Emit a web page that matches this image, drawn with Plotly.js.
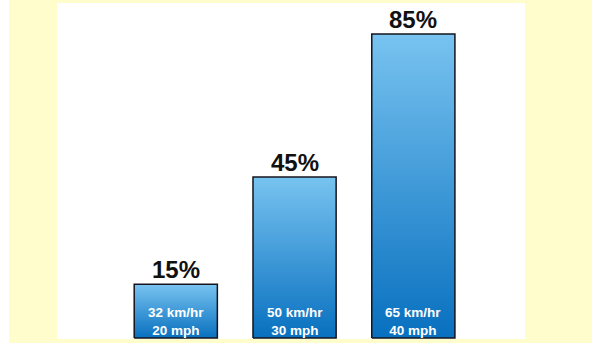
<!DOCTYPE html>
<html>
<head>
<meta charset="utf-8">
<script src="https://cdn.plot.ly/plotly-3.0.1.min.js"></script>
<style>html,body{margin:0;padding:0;background:#ffffff;}#chart{width:592px;height:343px;}</style>
</head>
<body>
<div id="chart"></div>
<script>
const speedKmh = ['32 km/hr', '50 km/hr', '65 km/hr'];
const speedMph = ['20 mph', '30 mph', '40 mph'];
const values = [15, 45, 85];
const valueLabels = ['15%', '45%', '85%'];

const halfWidth = 0.35;
const traces = values.map((v, i) => ({
  type: 'scatter',
  mode: 'lines',
  x: [i - halfWidth, i - halfWidth, i + halfWidth, i + halfWidth, i - halfWidth],
  y: [0, v, v, 0, 0],
  fill: 'toself',
  fillgradient: {type: 'vertical', colorscale: [[0, '#0870BF'], [1, '#78C3F0']]},
  line: {color: '#14141e', width: 1.5},
  hoverinfo: 'skip',
  showlegend: false
}));

const fontFam = 'Liberation Sans, Arial, sans-serif';
const annotations = [];
values.forEach((v, i) => {
  annotations.push({
    x: i, y: v, xref: 'x', yref: 'y', text: '<b>' + valueLabels[i] + '</b>',
    showarrow: false, yanchor: 'bottom', yshift: -1,
    font: {family: fontFam, size: 24, color: '#111111'}
  });
  annotations.push({
    x: i, y: 0, xref: 'x', yref: 'y',
    text: '<b>' + speedKmh[i] + '<br>' + speedMph[i] + '</b>',
    showarrow: false, yanchor: 'middle', yshift: 17, borderpad: 0,
    font: {family: fontFam, size: 13.5, color: '#ffffff'}
  });
});

const layout = {
  width: 592, height: 343,
  margin: {l: 57, r: 67, t: 3, b: 4, pad: 0},
  paper_bgcolor: '#FFFDCC',
  plot_bgcolor: '#ffffff',
  xaxis: {range: [-1.0, 2.94], visible: false, fixedrange: true},
  yaxis: {range: [-0.28, 93.68], visible: false, fixedrange: true},
  showlegend: false,
  annotations: annotations,
  shapes: [{
    type: 'rect', xref: 'paper', yref: 'paper',
    x0: -57/468, x1: -48/468, y0: -4/336, y1: 1 + 3/336,
    fillcolor: '#ffffff', line: {width: 0}, layer: 'below'
  }]
};

Plotly.newPlot('chart', traces, layout, {displayModeBar: false, staticPlot: true});
</script>
</body>
</html>
